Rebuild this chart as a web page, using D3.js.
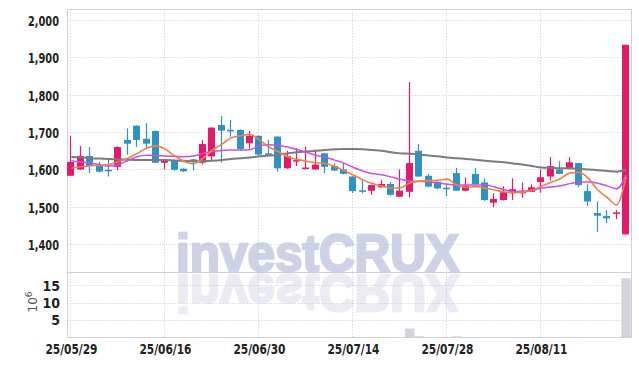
<!DOCTYPE html>
<html>
<head>
<meta charset="utf-8">
<script src="https://cdn.jsdelivr.net/npm/d3@7"></script>
<style>
  body { margin: 0; background: #fff; }
  svg { display: block; }
  .tick-label { font-family: "Liberation Sans Narrow", "DejaVu Sans Condensed", sans-serif; font-weight: bold; font-size: 14px; fill: #222; }
</style>
</head>
<body>
<div id="chart"></div>
<script>
// trading days (yy/mm/dd)
var dates = [
  "25/05/29","25/05/30","25/06/02","25/06/04","25/06/05","25/06/09","25/06/10","25/06/11","25/06/12","25/06/13",
  "25/06/16","25/06/17","25/06/18","25/06/19","25/06/20","25/06/23","25/06/24","25/06/25","25/06/26","25/06/27",
  "25/06/30","25/07/01","25/07/02","25/07/03","25/07/04","25/07/07","25/07/08","25/07/09","25/07/10","25/07/11",
  "25/07/14","25/07/15","25/07/16","25/07/17","25/07/18","25/07/21","25/07/22","25/07/23","25/07/24","25/07/25",
  "25/07/28","25/07/29","25/07/30","25/07/31","25/08/01","25/08/04","25/08/05","25/08/06","25/08/07","25/08/08",
  "25/08/11","25/08/12","25/08/13","25/08/14","25/08/18","25/08/19","25/08/20","25/08/21","25/08/22","25/08/25"
];
var open  = [1583,1600,1636,1613,1599,1607,1679,1717,1682,1703, 1618,1625,1602,1627,1618,1635,1719,1706,1706,1670,
             1690,1643,1688,1603,1621,1601,1600,1643,1609,1600, 1581,1544,1543,1552,1561,1527,1540,1650,1583,1567,
             1551,1590,1543,1588,1565,1511,1518,1536,1536,1540, 1566,1581,1600,1603,1617,1542,1483,1475,1484,1426];
var high  = [1690,1663,1660,1620,1629,1662,1710,1718,1724,1704, 1625,1626,1603,1628,1679,1713,1743,1733,1707,1703,
             1691,1679,1689,1650,1657,1661,1653,1644,1617,1617, 1582,1572,1559,1571,1566,1600,1834,1668,1588,1568,
             1563,1604,1578,1604,1576,1536,1555,1576,1565,1560, 1600,1633,1622,1633,1618,1560,1514,1491,1491,1934];
var low   = [1582,1599,1590,1592,1581,1597,1639,1660,1658,1617, 1600,1597,1593,1597,1613,1624,1618,1688,1650,1656,
             1637,1639,1594,1602,1609,1600,1599,1590,1595,1587, 1537,1536,1532,1551,1530,1526,1525,1580,1552,1547,
             1529,1542,1542,1558,1516,1499,1517,1518,1524,1539, 1538,1570,1587,1600,1552,1502,1432,1456,1467,1426];
var close = [1620,1636,1609,1594,1596,1660,1669,1679,1669,1618, 1624,1599,1595,1621,1668,1712,1704,1703,1655,1690,
             1640,1640,1603,1636,1625,1605,1613,1607,1597,1588, 1542,1543,1558,1561,1532,1543,1617,1581,1554,1549,
             1550,1543,1556,1561,1518,1521,1539,1547,1543,1552, 1579,1609,1588,1619,1558,1514,1476,1469,1485,1934];
// volume, millions of shares
var volume = [0.05,0.05,0.05,0.05,0.05,0.05,0.05,0.05,0.05,0.05, 0.05,0.05,0.05,0.05,0.05,0.05,0.05,0.05,0.05,0.05,
              0.05,0.05,0.05,0.05,0.05,0.05,0.05,0.05,0.05,0.05, 0.05,0.05,0.05,0.05,0.05,0.05,2.5,0.3,0.05,0.05,
              0.05,0.3,0.05,0.05,0.05,0.05,0.05,0.05,0.05,0.05, 0.05,0.05,0.05,0.05,0.05,0.05,0.05,0.05,0.05,17.0];
// moving averages
var maShort = [1603,1607,1610,1611,1613,1621,1630,1643,1657,1663, 1654,1636,1621,1615,1630,1652,1667,1685,1690,1694,
               1679,1660,1648,1634,1627,1622,1618,1616,1608,1597, 1585,1572,1562,1556,1550,1551,1564,1568,1570,1571,
               1574,1558,1552,1554,1550,1545,1540,1538,1539,1544, 1555,1565,1575,1590,1592,1576,1545,1525,1505,1580];
var maMid   = [1623,1620,1617,1613,1609,1613,1624,1634,1638,1637, 1636,1635,1634,1636,1643,1648,1651,1652,1652,1653,
               1664,1666,1664,1660,1653,1646,1638,1633,1625,1617, 1605,1596,1589,1586,1580,1574,1569,1568,1567,1564,
               1560,1558,1558,1558,1558,1553,1546,1541,1541,1544, 1550,1553,1556,1562,1566,1566,1563,1556,1548,1585];
var maLong  = [1633,1632,1630,1629,1628,1627,1626,1625,1625,1625, 1625,1624,1623,1622,1622,1623,1625,1628,1630,1632,
               1635,1637,1640,1643,1646,1648,1650,1652,1654,1655, 1655,1654,1652,1650,1646,1643,1642,1640,1637,1635,
               1632,1630,1628,1626,1623,1621,1619,1616,1613,1609, 1605,1604,1603,1603,1602,1600,1598,1596,1594,1599];
var priceTicks = [1400,1500,1600,1700,1800,1900,2000];
var volTicks = [5,10,15];
var dateTicks = ["25/05/29","25/06/16","25/06/30","25/07/14","25/07/28","25/08/11"];

var width = 639, height = 366;
var plotLeft = 66.7, plotRight = 630.7, plotTop = 9.3, plotSplit = 271.7, plotBottom = 337.3;

var svg = d3.select('#chart').append('svg').attr('width', width).attr('height', height);

var x = d3.scaleBand().domain(d3.range(dates.length)).range([plotLeft, plotRight]).padding(0);
var xc = function(i) { return x(i) + x.bandwidth() / 2; };
var y = d3.scaleLinear().domain([1326, 2029]).range([plotSplit, plotTop]);
var yv = d3.scaleLinear().domain([0, 18.9]).range([plotBottom, plotSplit]);

// watermark and its reflection
var wm = svg.append('g');
wm.append('text')
  .attr('x', 176).attr('y', 271)
  .attr('textLength', 283).attr('lengthAdjust', 'spacingAndGlyphs')
  .style('font-family', 'Liberation Sans, Arial, sans-serif')
  .style('font-weight', 'bold').style('font-size', '52px')
  .style('fill', '#cdd2e7').style('stroke', '#cdd2e7').style('stroke-width', 2.5)
  .text('investCRUX');
wm.append('text')
  .attr('transform', 'translate(0,' + (272 * 2 + 2) + ') scale(1,-1)')
  .attr('x', 176).attr('y', 271)
  .attr('textLength', 283).attr('lengthAdjust', 'spacingAndGlyphs')
  .style('font-family', 'Liberation Sans, Arial, sans-serif')
  .style('font-weight', 'bold').style('font-size', '52px')
  .style('fill', '#ebecf3').style('stroke', '#ebecf3').style('stroke-width', 2.5)
  .text('investCRUX');
// cut reflection at the bottom of volume panel
wm.append('rect').attr('x', 0).attr('y', plotBottom + 0.5).attr('width', width).attr('height', height - plotBottom)
  .attr('fill', '#fff');

// grid
var grid = svg.append('g').attr('stroke', '#c3c7dc').attr('stroke-dasharray', '1,2').attr('stroke-width', 1);
grid.selectAll('.hp').data(priceTicks).enter().append('line')
  .attr('x1', plotLeft).attr('x2', plotRight)
  .attr('y1', function(d) { return Math.round(y(d)) + 0.5; })
  .attr('y2', function(d) { return Math.round(y(d)) + 0.5; });
grid.selectAll('.hv').data(volTicks).enter().append('line')
  .attr('x1', plotLeft).attr('x2', plotRight)
  .attr('y1', function(d) { return Math.round(yv(d)) + 0.5; })
  .attr('y2', function(d) { return Math.round(yv(d)) + 0.5; });
grid.selectAll('.vx').data(dateTicks).enter().append('line')
  .attr('y1', plotTop).attr('y2', plotBottom)
  .attr('x1', function(d) { return Math.round(xc(dates.indexOf(d))) - 0.5; })
  .attr('x2', function(d) { return Math.round(xc(dates.indexOf(d))) - 0.5; });

// frame
var frame = svg.append('g').attr('stroke', '#cfcfd6').attr('fill', 'none');
frame.append('rect').attr('x', Math.round(plotLeft) + 0.5).attr('y', Math.round(plotTop) + 0.5)
  .attr('width', Math.round(plotRight - plotLeft)).attr('height', Math.round(plotBottom - plotTop));
frame.append('line').attr('x1', plotLeft).attr('x2', plotRight)
  .attr('y1', Math.round(plotSplit) + 0.5).attr('y2', Math.round(plotSplit) + 0.5);

// volume bars
svg.append('g').selectAll('rect').data(volume).enter().append('rect')
  .attr('x', function(d, i) { return x(i); })
  .attr('width', x.bandwidth())
  .attr('y', function(d) { return yv(d); })
  .attr('height', function(d) { return yv(0) - yv(d); })
  .attr('fill', '#d3d3db');

// candles
var red = '#e5186b', blue = '#2d92c4';
var candles = svg.append('g').selectAll('g').data(dates).enter().append('g');
candles.append('line')
  .attr('x1', function(d, i) { return Math.round(xc(i)) - 0.5; })
  .attr('x2', function(d, i) { return Math.round(xc(i)) - 0.5; })
  .attr('y1', function(d, i) { return y(high[i]); })
  .attr('y2', function(d, i) { return y(low[i]); })
  .attr('stroke', function(d, i) { return close[i] >= open[i] ? red : blue; })
  .attr('stroke-width', 1.2);
candles.append('rect')
  .attr('x', function(d, i) { return Math.round(xc(i)) - 4; })
  .attr('width', 7)
  .attr('y', function(d, i) { return y(Math.max(open[i], close[i])); })
  .attr('height', function(d, i) { return Math.max(1.5, Math.abs(y(open[i]) - y(close[i]))); })
  .attr('fill', function(d, i) { return close[i] >= open[i] ? red : blue; });

// moving averages
function maLine(series, color, w) {
  var line = d3.line().x(function(d, i) { return xc(i); }).y(function(d) { return y(d); })
    .curve(d3.curveMonotoneX);
  svg.append('path').datum(series).attr('d', line)
    .attr('fill', 'none').attr('stroke', color).attr('stroke-width', w)
    .attr('stroke-linejoin', 'round');
}
maLine(maLong, '#7b7b7b', 2);
maLine(maMid, '#c94fe6', 1.5);
maLine(maShort, '#ee8048', 1.6);

// axis labels
svg.append('g').selectAll('text').data(priceTicks).enter().append('text')
  .attr('class', 'tick-label')
  .attr('x', 59).attr('y', function(d) { return y(d) + 6; })
  .attr('text-anchor', 'end')
  .attr('textLength', 31).attr('lengthAdjust', 'spacingAndGlyphs')
  .text(function(d) { return d3.format(',')(d); });
svg.append('g').selectAll('text').data(volTicks).enter().append('text')
  .attr('class', 'tick-label')
  .attr('x', 60).attr('y', function(d) { return yv(d) + 5.5; })
  .attr('text-anchor', 'end')
  .text(function(d) { return d; });
svg.append('g').selectAll('text').data(dateTicks).enter().append('text')
  .attr('class', 'tick-label')
  .attr('x', function(d) { return xc(dates.indexOf(d)); }).attr('y', 354)
  .attr('text-anchor', 'middle')
  .attr('textLength', 52).attr('lengthAdjust', 'spacingAndGlyphs')
  .text(function(d) { return d; });

// volume unit label
var unit = svg.append('text')
  .attr('transform', 'translate(37,302) rotate(-90)')
  .attr('text-anchor', 'middle')
  .style('font-family', 'DejaVu Sans, sans-serif').style('font-size', '12px').style('fill', '#555');
unit.append('tspan').text('10');
unit.append('tspan').attr('dy', -5).style('font-size', '9px').text('6');
</script>
</body>
</html>
